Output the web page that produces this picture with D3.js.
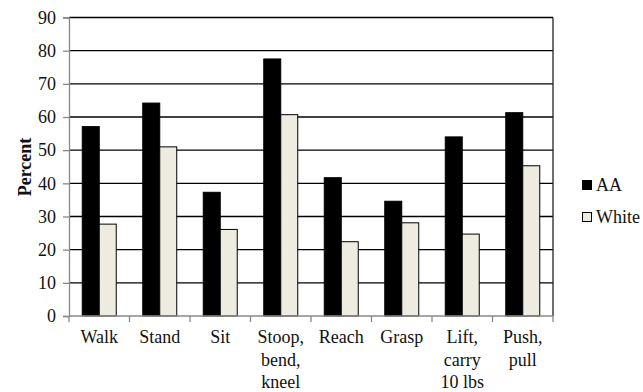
<!DOCTYPE html>
<html><head><meta charset="utf-8">
<script src="https://cdn.jsdelivr.net/npm/d3@7"></script>
<style>
html,body{margin:0;padding:0;background:#fff;}
svg{display:block;font-family:"Liberation Serif","Times New Roman",serif;}
</style></head>
<body>
<svg id="chart" width="643" height="392"></svg>
<script>
const categories = [["Walk"],["Stand"],["Sit"],["Stoop,","bend,","kneel"],["Reach"],["Grasp"],["Lift,","carry","10 lbs"],["Push,","pull"]];
const seriesNames = ["AA","White"];
const aaValues = [57.1, 64.2, 37.3, 77.5, 41.7, 34.6, 54.0, 61.3];
const whiteValues = [27.7, 51.0, 26.1, 60.7, 22.4, 28.1, 24.7, 45.3];
const yTicks = [0,10,20,30,40,50,60,70,80,90];
const colors = {AA:"#000000", White:"#eeece1"};

const FONT = '"Liberation Serif","Times New Roman",serif';
const FS = 18;
const svg = d3.select("#chart");
const L = 69, R = 553, T = 17.5, B = 316;
const catKeys = categories.map(c => c.join(" "));
const x = d3.scaleBand().domain(catKeys).range([L, R]).paddingInner(0).paddingOuter(0);
const xs = d3.scaleBand().domain(seriesNames).range([0, x.bandwidth()]).paddingInner(0).paddingOuter(0.78);
const y = d3.scaleLinear().domain([0, 90]).range([B, T]);

// gridlines
svg.append("g").selectAll("line").data(yTicks.filter(t => t > 0)).join("line")
  .attr("x1", L).attr("x2", R).attr("y1", d => y(d)).attr("y2", d => y(d))
  .attr("stroke", "#000").attr("stroke-width", 1.3);

// bars
const data = catKeys.map((k, i) => ({k, AA: aaValues[i], White: whiteValues[i]}));
const g = svg.append("g");
data.forEach(d => {
  seriesNames.forEach(s => {
    g.append("rect")
      .attr("x", x(d.k) + xs(s))
      .attr("y", y(d[s]))
      .attr("width", xs.bandwidth())
      .attr("height", B - y(d[s]))
      .attr("fill", colors[s])
      .attr("stroke", "#000").attr("stroke-width", 1);
  });
});

// right border
svg.append("line").attr("x1", R).attr("x2", R).attr("y1", T).attr("y2", B)
  .attr("stroke", "#222").attr("stroke-width", 1.3);

// y axis
const yAxis = d3.axisLeft(y).tickValues(yTicks).tickSize(6).tickPadding(7).tickFormat(d3.format("d"));
const ya = svg.append("g").attr("transform", `translate(${L},0)`).call(yAxis)
  .attr("font-family", FONT).attr("font-size", FS);
ya.select(".domain").attr("stroke", "#888").attr("stroke-width", 1.3);
ya.selectAll(".tick line").attr("stroke", "#888").attr("stroke-width", 1.3);
ya.selectAll(".tick text").attr("fill", "#111");

// x axis
const boundaries = d3.range(catKeys.length + 1).map(i => L + i * x.step());
svg.append("line").attr("x1", L).attr("x2", R).attr("y1", B).attr("y2", B)
  .attr("stroke", "#888").attr("stroke-width", 1.3);
svg.append("g").selectAll("line").data(boundaries).join("line")
  .attr("x1", d => d).attr("x2", d => d).attr("y1", B).attr("y2", B + 6)
  .attr("stroke", "#888").attr("stroke-width", 1.3);

// category labels
const lab = svg.append("g").attr("font-family", FONT).attr("font-size", FS).attr("fill", "#111").attr("text-anchor", "middle");
categories.forEach((c, i) => {
  const cx = x(catKeys[i]) + x.bandwidth() / 2;
  const t = lab.append("text").attr("x", cx).attr("y", 343);
  c.forEach((line, j) => t.append("tspan").attr("x", cx).attr("y", 343 + j * 22.5).text(line));
});

// y title
svg.append("text").attr("transform", `translate(31,167) rotate(-90)`)
  .attr("text-anchor", "middle").attr("font-weight", "bold").attr("font-size", FS)
  .attr("font-family", FONT).attr("fill", "#111").text("Percent");

// legend
const leg = svg.append("g").attr("font-family", FONT);
seriesNames.forEach((s, i) => {
  const yy = 180 + i * 32;
  leg.append("rect").attr("x", 582.5).attr("y", yy + 0.5).attr("width", 9).attr("height", 9)
    .attr("fill", colors[s]).attr("stroke", "#000").attr("stroke-width", 1);
  leg.append("text").attr("x", 596).attr("y", yy + 11).attr("font-size", FS).attr("fill", "#111").text(s);
});
</script>
</body></html>
